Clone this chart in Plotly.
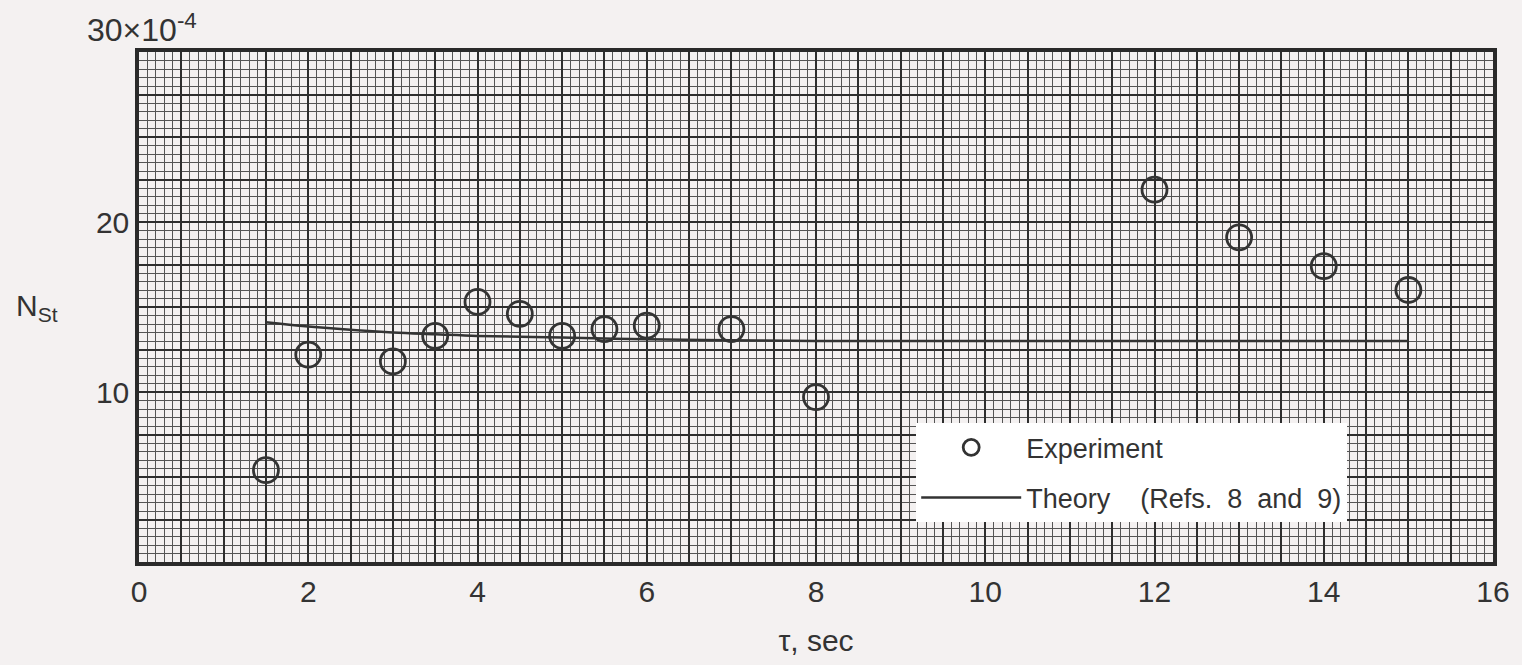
import numpy as np
import plotly.graph_objects as go

# ---- data ----
exp_tau = [1.5, 2, 3, 3.5, 4, 4.5, 5, 5.5, 6, 7, 8, 12, 13, 14, 15]
exp_nst = [5.4, 12.2, 11.8, 13.3, 15.3, 14.6, 13.3, 13.7, 13.9, 13.7, 9.7, 21.9, 19.1, 17.4, 16.0]

theory_tau = [1.5, 2, 3, 3.5, 4, 5, 6, 7, 8, 10, 12, 14, 15]
theory_nst = [14.1, 13.85, 13.5, 13.4, 13.3, 13.2, 13.1, 13.05, 13.0, 13.0, 13.0, 13.0, 13.0]

x_label_vals = [0, 2, 4, 6, 8, 10, 12, 14, 16]
y_label_vals = [10, 20]

INK = "#333333"
PAPER = "#f4f1f1"
FONT = "Liberation Sans"

# grid positions (graph paper): medium lines every 0.5 in x and 2.5 in y
x_grid = np.arange(0, 16.001, 0.5)
y_grid = np.arange(0, 30.001, 2.5)
x_text = [(f"{int(v)}" if any(abs(v - t) < 1e-9 for t in x_label_vals) else "") for v in x_grid]
y_text = [(f"{int(v)}" if any(abs(v - t) < 1e-9 for t in y_label_vals) else "") for v in y_grid]

fig = go.Figure()
fig.add_trace(go.Scatter(
    x=exp_tau, y=exp_nst, mode="markers", name="Experiment",
    legendgroup="a",
    marker=dict(symbol="circle-open", size=25, color=INK, line=dict(width=2.8, color=INK)),
))
fig.add_trace(go.Scatter(
    x=theory_tau, y=theory_nst, mode="lines",
    name="Theory\u00a0\u00a0\u00a0\u00a0(Refs.\u00a0\u00a08\u00a0\u00a0and\u00a0\u00a09)",
    legendgroup="b",
    line=dict(color=INK, width=2.5, shape="spline"),
))

fig.update_layout(
    width=1522, height=665,
    margin=dict(l=139, r=27, t=52, b=103),
    paper_bgcolor=PAPER, plot_bgcolor=PAPER,
    font=dict(family=FONT, color=INK, size=28),
    showlegend=True,
    legend=dict(
        x=0.574, y=0.272, xanchor="left", yanchor="top",
        bgcolor="#ffffff", borderwidth=0,
        font=dict(size=27, color=INK, family=FONT),
        itemwidth=100, tracegroupgap=12, itemsizing="trace",
    ),
    xaxis=dict(
        range=[0, 16], tickmode="array", tickvals=x_grid, ticktext=x_text,
        showgrid=True, gridcolor="#2e2e2e", gridwidth=2.2,
        minor=dict(dtick=0.1, showgrid=True, gridcolor="#555555", gridwidth=1),
        zeroline=False, ticks="", showline=True, linecolor="#2a2a2a", linewidth=3.5, mirror=True,
        tickfont=dict(size=30, color=INK, family=FONT),
        title=dict(text="\u03c4, sec", font=dict(size=30, color=INK, family=FONT), standoff=24),
    ),
    yaxis=dict(
        range=[0, 30], tickmode="array", tickvals=y_grid, ticktext=y_text,
        showgrid=True, gridcolor="#2e2e2e", gridwidth=2.2,
        minor=dict(dtick=0.5, showgrid=True, gridcolor="#555555", gridwidth=1),
        zeroline=False, ticks="", showline=True, linecolor="#2a2a2a", linewidth=3.5, mirror=True,
        tickfont=dict(size=30, color=INK, family=FONT),
    ),
    annotations=[
        dict(text="30\u00d710<sup>-4</sup>", xref="paper", yref="paper", x=0.062, y=1.0,
             xanchor="right", yanchor="bottom", xshift=-24, yshift=2, showarrow=False,
             font=dict(size=32, color=INK, family=FONT)),
        dict(text="N<sub>St</sub>", xref="paper", yref="y", x=-0.092, y=15,
             xanchor="left", yanchor="middle", showarrow=False,
             font=dict(size=30, color=INK, family=FONT)),
    ],
)

fig.write_html("out.html")
